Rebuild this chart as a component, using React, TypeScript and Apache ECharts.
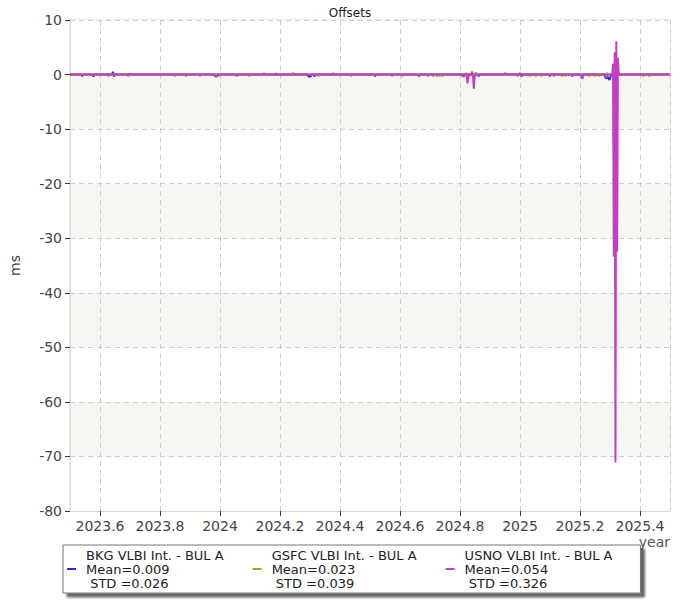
import React, { useEffect, useRef } from "react";
import * as echarts from "echarts";

const seriesNames = ["BKG VLBI Int. - BUL A", "GSFC VLBI Int. - BUL A", "USNO VLBI Int. - BUL A"];
const seriesMeans = ["0.009", "0.023", "0.054"];
const seriesStds = ["0.026", "0.039", "0.326"];
const seriesColors = ["#3522ee", "#a2a21e", "#c23fc2"];

const bkgData: [number, number][] = [
  [2023.5, 0],
  [2023.537, 0], [2023.54, -0.3], [2023.543, 0],
  [2023.575, 0], [2023.578, -0.35], [2023.581, 0],
  [2023.64, 0], [2023.643, 0.5], [2023.647, -0.35], [2023.65, 0],
  [2023.697, 0], [2023.7, 0.15], [2023.703, 0],
  [2024.292, 0], [2024.295, -0.35], [2024.299, -0.35], [2024.302, -0.35], [2024.305, 0],
  [2024.312, 0], [2024.315, -0.35], [2024.318, 0],
  [2024.514, 0], [2024.517, -0.3], [2024.52, 0],
  [2024.661, 0], [2024.664, -0.3], [2024.667, 0],
  [2024.859, 0], [2024.862, -0.3], [2024.865, 0],
  [2025.003, 0], [2025.006, -0.3], [2025.009, 0],
  [2025.097, 0], [2025.1, -0.3], [2025.103, 0],
  [2025.171, 0], [2025.174, -0.3], [2025.177, 0],
  [2025.282, 0], [2025.285, -0.6], [2025.29, -0.7], [2025.294, -0.5], [2025.298, -1.0], [2025.302, -0.4], [2025.305, 0],
  [2025.5, 0],
];

const gsfcData: [number, number][] = [
  [2023.5, 0],
  [2023.625, 0], [2023.628, -0.3], [2023.631, 0],
  [2023.691, 0], [2023.694, -0.3], [2023.697, 0],
  [2023.847, 0], [2023.85, -0.3], [2023.853, 0],
  [2023.884, 0], [2023.887, -0.3], [2023.89, 0],
  [2023.93, 0], [2023.933, -0.3], [2023.936, 0],
  [2023.995, 0], [2023.998, -0.3], [2024.001, 0],
  [2024.095, 0], [2024.098, -0.3], [2024.101, 0],
  [2024.144, 0], [2024.147, 0.3], [2024.15, 0],
  [2024.183, 0], [2024.186, 0.3], [2024.189, 0],
  [2024.239, 0], [2024.242, 0.35], [2024.245, 0],
  [2024.325, 0], [2024.328, -0.3], [2024.331, 0],
  [2024.375, 0], [2024.378, 0.3], [2024.381, 0],
  [2024.434, 0], [2024.437, -0.3], [2024.44, 0],
  [2024.571, 0], [2024.574, -0.3], [2024.577, 0],
  [2024.606, 0], [2024.609, -0.3], [2024.612, 0],
  [2024.69, 0], [2024.693, -0.3], [2024.696, 0],
  [2024.707, 0], [2024.71, -0.3], [2024.713, 0],
  [2024.72, 0], [2024.723, -0.3], [2024.726, 0],
  [2024.73, 0], [2024.733, -0.3], [2024.736, 0],
  [2024.74, 0], [2024.743, -0.3], [2024.746, 0],
  [2024.803, 0], [2024.806, -0.3], [2024.809, 0],
  [2024.817, 0], [2024.82, 0.3], [2024.823, 0],
  [2024.85, 0], [2024.853, 0.4], [2024.856, 0],
  [2024.947, 0], [2024.95, 0.3], [2024.953, 0],
  [2024.989, 0], [2024.992, -0.3], [2024.995, 0],
  [2025.03, 0], [2025.033, -0.3], [2025.036, 0],
  [2025.05, 0], [2025.053, -0.3], [2025.056, 0],
  [2025.069, 0], [2025.072, -0.3], [2025.075, 0],
  [2025.11, 0], [2025.113, -0.3], [2025.116, 0],
  [2025.137, 0], [2025.14, -0.3], [2025.143, 0],
  [2025.148, 0], [2025.151, -0.3], [2025.154, 0],
  [2025.228, 0], [2025.231, -0.3], [2025.234, 0],
  [2025.248, 0], [2025.251, -0.3], [2025.254, 0],
  [2025.261, 0], [2025.264, -0.3], [2025.267, 0],
  [2025.286, 0], [2025.289, 0.3], [2025.292, 0],
  [2025.408, 0], [2025.411, -0.3], [2025.414, 0],
  [2025.428, 0], [2025.431, -0.3], [2025.434, 0],
  [2025.5, 0],
];

const usnoData: [number, number][] = [
  [2023.5, 0],
  [2023.98, 0], [2023.983, -0.3], [2023.987, -0.35], [2023.99, -0.35], [2023.993, 0],
  [2024.053, 0], [2024.056, -0.3], [2024.059, 0],
  [2024.809, 0], [2024.812, -0.5], [2024.815, 0],
  [2024.822, 0], [2024.825, -1.6], [2024.828, -0.6], [2024.831, 0],
  [2024.837, 0], [2024.84, 0.55], [2024.843, 0], [2024.846, -2.6], [2024.849, -0.5], [2024.852, 0],
  [2024.949, 0], [2024.952, 0.2], [2024.955, 0],
  [2024.997, 0], [2025.0, 0.3], [2025.003, 0],
  [2025.203, 0], [2025.206, -0.7], [2025.209, -0.6], [2025.212, 0],
  [2025.283, 0], [2025.286, -0.4], [2025.29, -0.5], [2025.293, 0],
  [2025.3073, 0], [2025.31, 2.0], [2025.3127, -33.4], [2025.3155, 4.1], [2025.3182, -71.1],
  [2025.321, 6.1], [2025.3237, -32.5], [2025.3264, 3.1], [2025.3292, 0],
  [2025.5, 0],
];

const allData = [bkgData, gsfcData, usnoData];

const FONT = "DejaVu Sans";

export default function App() {
  const ref = useRef<HTMLDivElement>(null);

  useEffect(() => {
    if (!ref.current) return;
    const chart = echarts.init(ref.current, undefined, { renderer: "svg" });
    const option: any = {
      animation: false,
      title: {
        text: "Offsets",
        left: "center",
        top: 2,
        textStyle: { fontSize: 12, fontWeight: "normal", color: "#222", fontFamily: FONT },
      },
      grid: {
        left: 70,
        right: 30,
        top: 20,
        bottom: 89,
        show: true,
        borderColor: "#d8d8d8",
        borderWidth: 1,
        backgroundColor: "transparent",
      },
      legend: {
        left: 63,
        top: 545,
        orient: "horizontal",
        padding: [3, 28, 3, 4],
        itemGap: 29,
        itemWidth: 9,
        itemHeight: 2,
        icon: "rect",
        selectedMode: false,
        backgroundColor: "#ffffff",
        borderColor: "#777777",
        borderWidth: 1,
        borderRadius: 0,
        shadowColor: "rgba(0,0,0,0.6)",
        shadowBlur: 2,
        shadowOffsetX: 4,
        shadowOffsetY: 4,
        data: seriesNames,
        formatter: (name: string) => {
          const i = seriesNames.indexOf(name);
          return `{t|${name}}\n{t|Mean=${seriesMeans[i]}}\n{t| STD =${seriesStds[i]}}`;
        },
        textStyle: {
          fontSize: 13,
          lineHeight: 14,
          color: "#222",
          fontFamily: FONT,
          rich: {
            t: {
              fontSize: 13,
              lineHeight: 14,
              color: "#222",
              fontFamily: FONT,
              padding: [0, 0, 0, 5],
            },
          },
        },
      },
      xAxis: {
        type: "value",
        min: 2023.5,
        max: 2025.5,
        splitNumber: 10,
        name: "year",
        nameLocation: "end",
        nameGap: 0,
        nameTextStyle: {
          fontSize: 14,
          color: "#555",
          fontFamily: FONT,
          align: "right",
          verticalAlign: "top",
          padding: [24, 0, 0, 0],
        },
        axisLine: { show: true, onZero: false, lineStyle: { color: "#d8d8d8" } },
        axisTick: { show: true, length: 5, lineStyle: { color: "#333" } },
        axisLabel: {
          fontSize: 14,
          color: "#444",
          fontFamily: FONT,
          margin: 8,
          showMinLabel: false,
          showMaxLabel: false,
          formatter: (v: number) => String(Math.round(v * 10) / 10),
        },
        splitLine: { show: true, lineStyle: { color: "#cccccc", type: [5, 4] } },
      },
      yAxis: {
        type: "value",
        min: -80,
        max: 10,
        interval: 10,
        name: "ms",
        nameLocation: "middle",
        nameGap: 48,
        nameTextStyle: { fontSize: 14, color: "#444", fontFamily: FONT },
        axisLine: { show: true, onZero: false, lineStyle: { color: "#d8d8d8" } },
        axisTick: { show: true, length: 5, lineStyle: { color: "#333" } },
        axisLabel: { fontSize: 14, color: "#444", fontFamily: FONT, margin: 8 },
        splitLine: { show: true, lineStyle: { color: "#cccccc", type: [5, 4] } },
        splitArea: { show: true, areaStyle: { color: ["#ffffff", "#f6f6f2"] } },
      },
      series: seriesNames.map((name, i) => ({
        name,
        type: "line",
        data: allData[i],
        showSymbol: false,
        symbol: "none",
        color: seriesColors[i],
        lineStyle: { width: 2, color: seriesColors[i] },
        emphasis: { disabled: true },
        z: 2 + i,
      })),
    };
    chart.setOption(option);
    return () => {
      chart.dispose();
    };
  }, []);

  return (
    <div
      ref={ref}
      style={{ position: "fixed", left: 0, top: 0, width: 700, height: 600, background: "#fff" }}
    />
  );
}
